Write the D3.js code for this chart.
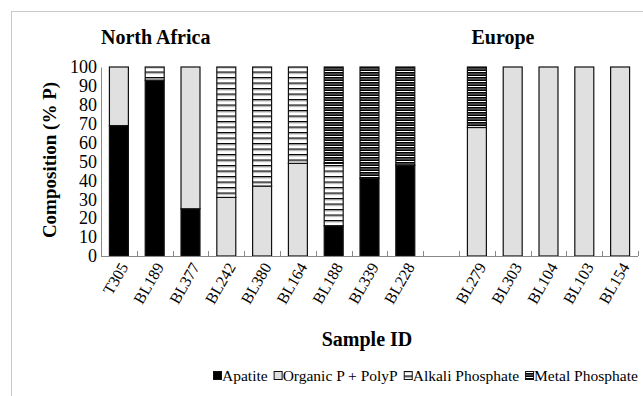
<!DOCTYPE html>
<html>
<head>
<meta charset="utf-8">
<script src="https://cdn.jsdelivr.net/npm/d3@7"></script>
<style>
  body { margin: 0; background: #fff; }
  text { font-family: "Liberation Serif", "Times New Roman", serif; fill: #000; }
</style>
</head>
<body>
<div class="chart"></div>
<script>
// samples, "gap" is the empty slot between the two regions
var samples = ["T305", "BL189", "BL377", "BL242", "BL380", "BL164", "BL188", "BL339", "BL228",
    "gap", "BL279", "BL303", "BL104", "BL103", "BL154"];
var apatite = [69, 93, 25, 0, 0, 0, 16, 41, 48, 0, 0, 0, 0, 0, 0];
var organic = [31, 0, 75, 31, 37, 49, 0, 0, 0, 0, 68, 100, 100, 100, 100];
var alkali = [0, 7, 0, 69, 63, 51, 33, 0, 0, 0, 0, 0, 0, 0, 0];
var metal = [0, 0, 0, 0, 0, 0, 51, 59, 52, 0, 32, 0, 0, 0, 0];
var seriesNames = ["Apatite", "Organic P + PolyP", "Alkali Phosphate", "Metal Phosphate"];
var yTicks = [0, 10, 20, 30, 40, 50, 60, 70, 80, 90, 100];
var regions = [{ name: "North Africa", x: 101, anchor: "start" }, { name: "Europe", x: 503, anchor: "middle" }];

var width = 643, height = 396;
var serif = '"Liberation Serif", "Times New Roman", serif';

var svg = d3
    .select(".chart")
    .append("svg")
    .attr("width", width)
    .attr("height", height);

var defs = svg.append("defs");

// alkali: white with black + gray stripes
var pa = defs.append("pattern")
    .attr("id", "alkali")
    .attr("patternUnits", "userSpaceOnUse")
    .attr("width", 8).attr("height", 5.5);
pa.append("rect").attr("width", 8).attr("height", 5.5).attr("fill", "#fff");
pa.append("rect").attr("y", 0).attr("width", 8).attr("height", 1.2).attr("fill", "#000");
pa.append("rect").attr("y", 1.2).attr("width", 8).attr("height", 1).attr("fill", "#888");

// metal: black with white + gray stripes
var pm = defs.append("pattern")
    .attr("id", "metal")
    .attr("patternUnits", "userSpaceOnUse")
    .attr("width", 8).attr("height", 5);
pm.append("rect").attr("width", 8).attr("height", 5).attr("fill", "#000");
pm.append("rect").attr("y", 1).attr("width", 8).attr("height", 1).attr("fill", "#fff");
pm.append("rect").attr("y", 3.5).attr("width", 8).attr("height", 1).attr("fill", "#888");

var fills = ["#000", "#e0e0e0", "url(#alkali)", "url(#metal)"];

// frame
svg.append("rect")
    .attr("x", 11.5).attr("y", 11.5)
    .attr("width", 660).attr("height", 420)
    .attr("fill", "none")
    .attr("stroke", "#c8c8c8");

var x = d3.scaleBand().domain(samples).range([101, 638]).padding(0);
var y = d3.scaleLinear().domain([0, 100]).range([256, 67]);
var barW = x.bandwidth() * 0.53;

var table = samples.map((s, i) => ({
    sample: s,
    values: [apatite[i], organic[i], alkali[i], metal[i]]
}));

var stack = [];
table.forEach((d) => {
    if (d.sample === "gap") return;
    var acc = 0;
    d.values.forEach((v, k) => {
        if (v > 0) stack.push({ sample: d.sample, k: k, y0: acc, y1: acc + v });
        acc += v;
    });
});

svg.append("g")
    .selectAll("rect")
    .data(stack)
    .enter()
    .append("rect")
    .attr("x", (d) => x(d.sample) + (x.bandwidth() - barW) / 2)
    .attr("width", barW)
    .attr("y", (d) => y(d.y1))
    .attr("height", (d) => y(d.y0) - y(d.y1))
    .attr("fill", (d) => fills[d.k])
    .attr("stroke", "#111")
    .attr("stroke-width", 1.2);

// y axis
var yAxis = svg.append("g")
    .attr("transform", "translate(101,0)")
    .call(d3.axisLeft(y).tickValues(yTicks).tickSize(0).tickPadding(4));
yAxis.select(".domain").attr("stroke", "#888");
yAxis.selectAll("text").style("font-size", "18px").style("font-family", serif);

// x axis line and inner ticks at slot boundaries
svg.append("line")
    .attr("x1", 101).attr("x2", 638)
    .attr("y1", 256.5).attr("y2", 256.5)
    .attr("stroke", "#888");
svg.append("g")
    .selectAll("line")
    .data(samples)
    .enter()
    .append("line")
    .attr("x1", (d) => Math.round(x(d) + x.bandwidth()) + 0.5)
    .attr("x2", (d) => Math.round(x(d) + x.bandwidth()) + 0.5)
    .attr("y1", 256).attr("y2", 251)
    .attr("stroke", "#888");

// rotated sample labels
svg.append("g")
    .selectAll("text")
    .data(samples.filter((s) => s !== "gap"))
    .enter()
    .append("text")
    .attr("transform", (d) => `translate(${x(d) + x.bandwidth() / 2 + 5},${264}) rotate(-60)`)
    .attr("text-anchor", "end")
    .attr("dy", "0.35em")
    .style("font-family", serif)
    .style("font-size", "16px")
    .text((d) => d);

// region titles
svg.selectAll(".region")
    .data(regions)
    .enter()
    .append("text")
    .attr("class", "region")
    .attr("x", (d) => d.x)
    .attr("y", 44)
    .attr("text-anchor", (d) => d.anchor)
    .style("font-family", serif)
    .style("font-size", "20px")
    .style("font-weight", "bold")
    .text((d) => d.name);

// axis titles
svg.append("text")
    .attr("transform", "translate(56,160) rotate(-90)")
    .attr("text-anchor", "middle")
    .style("font-family", serif)
    .style("font-size", "19px")
    .style("font-weight", "bold")
    .text("Composition (% P)");

svg.append("text")
    .attr("x", 367)
    .attr("y", 346)
    .attr("text-anchor", "middle")
    .style("font-family", serif)
    .style("font-size", "20px")
    .style("font-weight", "bold")
    .text("Sample ID");

// legend
var legend = svg.append("g").attr("transform", "translate(213,381)");
var lx = 0;
seriesNames.forEach((name, k) => {
    var g = legend.append("g").attr("transform", `translate(${lx},0)`);
    g.append("rect")
        .attr("x", 0.5).attr("y", -9.5)
        .attr("width", 8).attr("height", 8)
        .attr("fill", fills[k])
        .attr("stroke", "#111");
    var t = g.append("text")
        .attr("x", 9)
        .attr("y", 0)
        .style("font-family", serif)
        .style("font-size", "15.5px")
        .text(name);
    lx += 9 + t.node().getComputedTextLength() + 6;
});
</script>
</body>
</html>
